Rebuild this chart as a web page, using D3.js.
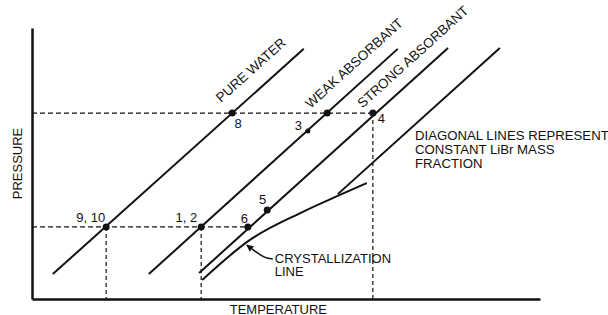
<!DOCTYPE html>
<html>
<head>
<meta charset="utf-8">
<script src="https://cdn.jsdelivr.net/npm/d3@7"></script>
<style>
  body { margin: 0; background: #fff; }
  text { font-family: "Liberation Sans", Arial, sans-serif; font-size: 13px; fill: #111; }
  .diag-label { font-size: 13.5px; }
  .note { font-size: 13.2px; }
</style>
</head>
<body>
<div id="chart"></div>
<script>
// Schematic chart: no numeric ticks, both axes run 0..100 in arbitrary units.
const lineNames = ["PURE WATER", "WEAK ABSORBANT", "STRONG ABSORBANT", ""];
const lineStart = [[4.1, 9.2], [23.0, 9.2], [32.9, 9.6], [60.2, 38.7]];
const lineEnd = [[53.5, 92.3], [72.0, 92.3], [81.9, 92.6], [92.1, 92.6]];

const crystT = [33.5, 42.9, 52.8, 60.6, 65.9];
const crystP = [7.0, 21.8, 31.7, 38.4, 42.8];

const pointLabels = ["9, 10", "1, 2", "6", "5", "8", "", "3", "4"];
const pointT = [14.6, 33.3, 42.5, 46.3, 39.4, 58.1, 54.3, 67.1];
const pointP = [26.6, 26.6, 26.6, 32.8, 68.6, 68.6, 62.0, 68.6];

// dashed guides: horizontal levels (to a temperature) and drops to the axis
const levelP = [26.6, 68.6];
const levelEndT = [42.5, 67.1];
const dropT = [14.6, 33.3, 67.1];
const dropTopP = [26.6, 26.6, 68.6];

const noteLines = ["DIAGONAL LINES REPRESENT", "CONSTANT LiBr MASS", "FRACTION"];
const crystLabel = ["CRYSTALLIZATION", "LINE"];

const width = 608, height = 315;

var x = d3.scaleLinear().domain([0, 100]).range([32, 540]);
var y = d3.scaleLinear().domain([0, 100]).range([299, 28]);

var svg = d3.select("#chart").append("svg")
    .attr("width", width)
    .attr("height", height);

svg.append("defs").append("marker")
    .attr("id", "arrow")
    .attr("viewBox", "0 0 10 10")
    .attr("refX", 9).attr("refY", 5)
    .attr("markerWidth", 7).attr("markerHeight", 7)
    .attr("markerUnits", "userSpaceOnUse")
    .attr("orient", "auto")
    .append("path")
    .attr("d", "M0,0L10,5L0,10z")
    .attr("fill", "#111");

// axes (no ticks)
svg.append("g")
    .attr("transform", "translate(" + x(0) + ",0)")
    .call(d3.axisLeft(y).ticks(0).tickSize(0).tickSizeOuter(0))
    .select(".domain").attr("stroke", "#111").attr("stroke-width", 2.5);

svg.append("g")
    .attr("transform", "translate(0," + y(0) + ")")
    .call(d3.axisBottom(x).ticks(0).tickSize(0).tickSizeOuter(0))
    .select(".domain").attr("stroke", "#111").attr("stroke-width", 2.5);

// dashed guides
svg.append("g").selectAll("line")
    .data(levelP)
    .join("line")
    .attr("x1", x(0)).attr("x2", (d, i) => x(levelEndT[i]))
    .attr("y1", d => y(d)).attr("y2", d => y(d))
    .attr("stroke", "#111").attr("stroke-width", 1.2)
    .attr("stroke-dasharray", "5,3");

svg.append("g").selectAll("line")
    .data(dropT)
    .join("line")
    .attr("x1", d => x(d)).attr("x2", d => x(d))
    .attr("y1", (d, i) => y(dropTopP[i])).attr("y2", y(0))
    .attr("stroke", "#111").attr("stroke-width", 1.2)
    .attr("stroke-dasharray", "4,3");

// constant mass fraction lines
var diag = svg.append("g");
diag.selectAll("line")
    .data(lineStart)
    .join("line")
    .attr("x1", d => x(d[0])).attr("y1", d => y(d[1]))
    .attr("x2", (d, i) => x(lineEnd[i][0])).attr("y2", (d, i) => y(lineEnd[i][1]))
    .attr("stroke", "#111").attr("stroke-width", 2);

// labels along the lines: fraction along the line and offset above it
const along = [0.71, 0.687, 0.69, 0];
const above = [15, 14, 12.5, 0];
diag.selectAll("text")
    .data(lineNames)
    .join("text")
    .attr("class", "diag-label")
    .attr("transform", (d, i) => {
        var x1 = x(lineStart[i][0]), y1 = y(lineStart[i][1]);
        var x2 = x(lineEnd[i][0]), y2 = y(lineEnd[i][1]);
        var a = Math.atan2(y2 - y1, x2 - x1) * 180 / Math.PI;
        var px = x1 + (x2 - x1) * along[i], py = y1 + (y2 - y1) * along[i];
        return "translate(" + px + "," + py + ") rotate(" + a + ")";
    })
    .attr("y", (d, i) => -above[i])
    .text(d => d);

// crystallization line
var cryst = d3.line()
    .x(d => x(d[0]))
    .y(d => y(d[1]))
    .curve(d3.curveMonotoneX);

svg.append("path")
    .datum(crystT.map((t, i) => [t, crystP[i]]))
    .attr("d", cryst)
    .attr("fill", "none")
    .attr("stroke", "#111").attr("stroke-width", 2);

// leader with arrow to the crystallization line
var leader = [[47.4, 14.8], [45.9, 15.1], [44.3, 17.0], [42.3, 19.9]];
svg.append("path")
    .datum(leader)
    .attr("d", d3.line().x(d => x(d[0])).y(d => y(d[1])).curve(d3.curveBasis))
    .attr("fill", "none")
    .attr("stroke", "#111").attr("stroke-width", 1.5)
    .attr("marker-end", "url(#arrow)");

svg.append("g").selectAll("text")
    .data(crystLabel)
    .join("text")
    .attr("x", x(leader[0][0]) + 2)
    .attr("y", (d, i) => y(leader[0][1]) + 4.5 + i * 13)
    .text(d => d);

// state points
svg.append("g").selectAll("circle")
    .data(pointT)
    .join("circle")
    .attr("cx", d => x(d))
    .attr("cy", (d, i) => y(pointP[i]))
    .attr("r", (d, i) => pointLabels[i] === "3" ? 2.5 : 3.5)
    .attr("fill", "#111");

const labelPos = {
    "9, 10": [-1, -5, "end"],
    "1, 2": [-4, -5, "end"],
    "6": [-3.5, -4, "middle"],
    "5": [-4.5, -6, "middle"],
    "8": [6, 15, "middle"],
    "3": [-9.5, -1, "middle"],
    "4": [8.5, 10, "middle"]
};
svg.append("g").selectAll("text")
    .data(pointLabels.filter(d => d !== ""))
    .join("text")
    .attr("x", d => x(pointT[pointLabels.indexOf(d)]) + labelPos[d][0])
    .attr("y", d => y(pointP[pointLabels.indexOf(d)]) + labelPos[d][1])
    .attr("text-anchor", d => labelPos[d][2])
    .text(d => d);

// note at right
svg.append("g").selectAll("text")
    .data(noteLines)
    .join("text")
    .attr("class", "note")
    .attr("x", x(75.4))
    .attr("y", (d, i) => y(58.5) + i * 14)
    .text(d => d);

// axis titles
svg.append("text")
    .attr("x", x(48.5)).attr("y", 314)
    .attr("text-anchor", "middle")
    .text("TEMPERATURE");

svg.append("text")
    .attr("transform", "translate(22," + y(50) + ") rotate(-90)")
    .attr("text-anchor", "middle")
    .text("PRESSURE");
</script>
</body>
</html>
